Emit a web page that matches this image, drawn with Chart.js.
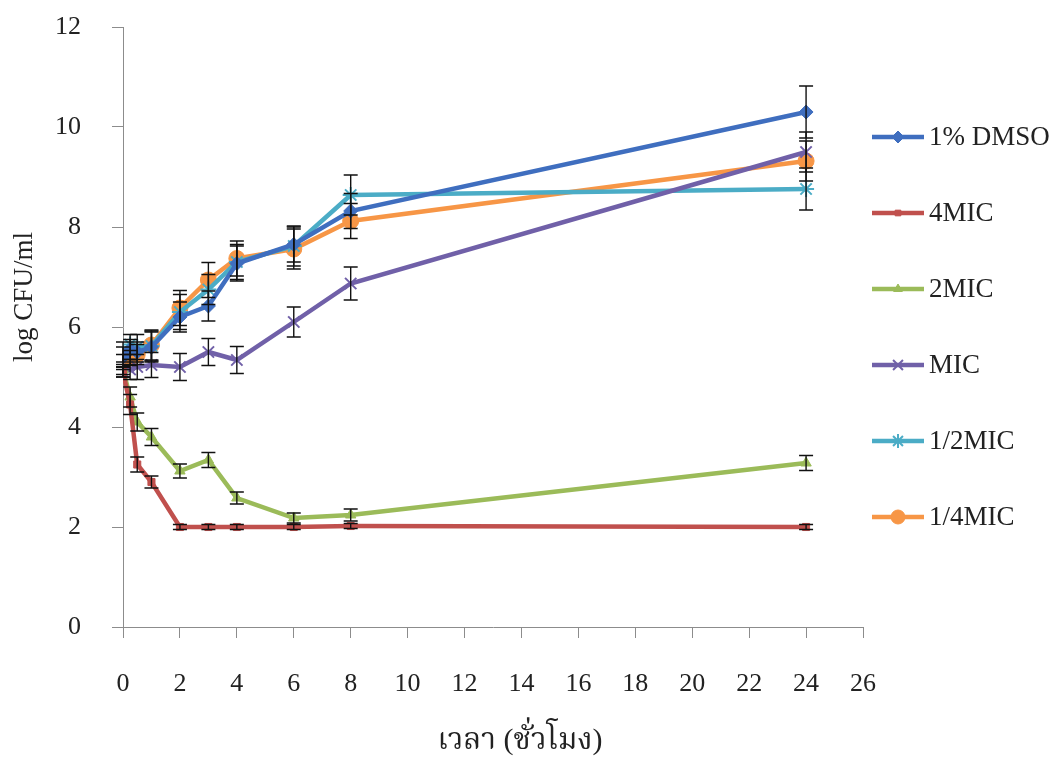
<!DOCTYPE html>
<html>
<head>
<meta charset="utf-8">
<script src="https://cdn.jsdelivr.net/npm/chart.js@4/dist/chart.umd.min.js"></script>
<style>
  html, body { margin: 0; padding: 0; background: #fff; }
  #wrap { width: 1060px; height: 760px; }
</style>
</head>
<body>
<div id="wrap"><canvas id="chart" width="1060" height="760"></canvas></div>
<script>
const hours = [0, 0.25, 0.5, 1, 2, 3, 4, 6, 8, 24];
const xTicks = [0, 2, 4, 6, 8, 10, 12, 14, 16, 18, 20, 22, 24, 26];
const yTicks = [0, 2, 4, 6, 8, 10, 12];

const seriesNames = ["1% DMSO", "4MIC", "2MIC", "MIC", "1/2MIC", "1/4MIC"];
const dmso = [5.4, 5.55, 5.5, 5.6, 6.2, 6.42, 7.27, 7.65, 8.32, 10.3];
const mic4 = [5.1, 4.45, 3.25, 2.9, 2.0, 2.0, 2.0, 2.0, 2.02, 2.0];
const mic2 = [5.15, 4.6, 4.1, 3.8, 3.12, 3.34, 2.58, 2.18, 2.24, 3.28];
const mic1 = [5.1, 5.15, 5.2, 5.24, 5.2, 5.5, 5.34, 6.1, 6.87, 9.5];
const micHalf = [5.5, 5.65, 5.6, 5.62, 6.3, 6.75, 7.3, 7.62, 8.64, 8.76];
const micQuarter = [5.3, 5.38, 5.45, 5.64, 6.38, 6.94, 7.37, 7.56, 8.12, 9.32];

const dmsoErr = [0.2, 0.2, 0.2, 0.3, 0.3, 0.3, 0.35, 0.35, 0.35, 0.52];
const mic4Err = [0.1, 0.2, 0.15, 0.12, 0.05, 0.05, 0.05, 0.05, 0.05, 0.05];
const mic2Err = [0.1, 0.2, 0.18, 0.17, 0.14, 0.15, 0.12, 0.1, 0.12, 0.15];
const mic1Err = [0.1, 0.2, 0.25, 0.25, 0.27, 0.27, 0.27, 0.3, 0.33, 0.4];
const micHalfErr = [0.2, 0.2, 0.25, 0.3, 0.35, 0.3, 0.35, 0.4, 0.4, 0.42];
const micQuarterErr = [0.15, 0.15, 0.2, 0.3, 0.35, 0.35, 0.35, 0.4, 0.35, 0.4];

const colors = ["#3F6EBF", "#C0504D", "#9BBB59", "#7060A8", "#4BACC6", "#F79646"];
const styles = [
  { pointStyle: "rectRot", radius: 7, borderWidth: 1 },
  { pointStyle: "rect", radius: 5, borderWidth: 1 },
  { pointStyle: "triangle", radius: 6, borderWidth: 1 },
  { pointStyle: "crossRot", radius: 8, borderWidth: 2 },
  { pointStyle: "star", radius: 8, borderWidth: 2 },
  { pointStyle: "circle", radius: 8, borderWidth: 1 },
];

const values = [dmso, mic4, mic2, mic1, micHalf, micQuarter];
const errors = [dmsoErr, mic4Err, mic2Err, mic1Err, micHalfErr, micQuarterErr];

const serif = "'Liberation Serif', 'Times New Roman', serif";
const thaiFont = "'Liberation Serif', 'Noto Serif Thai', 'Noto Sans Thai', 'DejaVu Sans', serif";

const makeDataset = (i) => ({
  label: seriesNames[i],
  data: hours.map((h, k) => ({ x: h, y: values[i][k] })),
  err: errors[i],
  borderColor: colors[i],
  backgroundColor: colors[i],
  borderWidth: 4.5,
  tension: 0,
  pointStyle: styles[i].pointStyle,
  pointRadius: styles[i].radius,
  pointBorderWidth: styles[i].borderWidth,
  pointBorderColor: colors[i],
  pointBackgroundColor: colors[i],
});

// black error bars drawn over the lines
const errorBars = {
  id: "errorBars",
  afterDatasetsDraw(chart) {
    const ctx = chart.ctx;
    const ys = chart.scales.y;
    ctx.save();
    ctx.strokeStyle = "#111";
    ctx.lineWidth = 1.4;
    chart.data.datasets.forEach((ds, i) => {
      const meta = chart.getDatasetMeta(i);
      meta.data.forEach((pt, k) => {
        const v = ds.data[k].y;
        const e = ds.err[k];
        const top = ys.getPixelForValue(v + e);
        const bot = ys.getPixelForValue(v - e);
        ctx.beginPath();
        ctx.moveTo(pt.x, top); ctx.lineTo(pt.x, bot);
        ctx.moveTo(pt.x - 7, top); ctx.lineTo(pt.x + 7, top);
        ctx.moveTo(pt.x - 7, bot); ctx.lineTo(pt.x + 7, bot);
        ctx.stroke();
      });
    });
    ctx.restore();
  },
};

// legend on the right and axis titles
const sideText = {
  id: "sideText",
  afterDraw(chart) {
    const ctx = chart.ctx;
    ctx.save();
    chart.data.datasets.forEach((ds, i) => {
      const y = 137 + 76 * i;
      ctx.strokeStyle = colors[i];
      ctx.fillStyle = colors[i];
      ctx.lineWidth = 4.5;
      ctx.beginPath();
      ctx.moveTo(872, y); ctx.lineTo(924, y);
      ctx.stroke();
      ctx.lineWidth = styles[i].borderWidth;
      Chart.helpers.drawPoint(ctx, { pointStyle: styles[i].pointStyle, radius: styles[i].radius - 1, borderWidth: styles[i].borderWidth, rotation: 0 }, 898, y);
      ctx.fillStyle = "#222";
      ctx.font = "27px " + serif;
      ctx.textAlign = "left";
      ctx.textBaseline = "middle";
      ctx.fillText(ds.label, 929, y + 1);
    });

    ctx.fillStyle = "#222";
    ctx.font = "27px " + serif;
    ctx.textAlign = "center";
    ctx.textBaseline = "middle";
    ctx.translate(25, 297);
    ctx.rotate(-Math.PI / 2);
    ctx.fillText("log CFU/ml", 0, 0);
    ctx.restore();

    ctx.save();
    ctx.fillStyle = "#222";
    ctx.font = "30px " + thaiFont;
    ctx.textAlign = "center";
    ctx.textBaseline = "middle";
    ctx.fillText("เวลา (ชั่วโมง)", 520, 741);
    ctx.restore();
  },
};

const ctx = document.getElementById("chart").getContext("2d");
new Chart(ctx, {
  type: "line",
  data: { datasets: values.map((v, i) => makeDataset(i)) },
  options: {
    responsive: false,
    animation: false,
    layout: { padding: { top: 27, right: 197, left: 0, bottom: 0 } },
    plugins: { legend: { display: false }, tooltip: { enabled: false } },
    scales: {
      x: {
        type: "linear",
        min: 0,
        max: 26,
        afterBuildTicks: (s) => { s.ticks = xTicks.map((v) => ({ value: v })); },
        afterFit: (s) => { s.height = 133; s.paddingLeft = 0; s.paddingRight = 0; },
        grid: { drawOnChartArea: false, drawTicks: true, tickLength: 11, color: "#8c8c8c" },
        border: { color: "#8c8c8c", width: 1 },
        ticks: { padding: 31, color: "#222", font: { family: serif, size: 26 }, maxRotation: 0 },
      },
      y: {
        min: 0,
        max: 12,
        afterBuildTicks: (s) => { s.ticks = yTicks.map((v) => ({ value: v })); },
        afterFit: (s) => { s.width = 123; s.paddingTop = 0; s.paddingBottom = 0; },
        grid: { drawOnChartArea: false, drawTicks: true, tickLength: 11, color: "#8c8c8c" },
        border: { color: "#8c8c8c", width: 1 },
        ticks: { padding: 31, color: "#222", font: { family: serif, size: 26 } },
      },
    },
  },
  plugins: [errorBars, sideText],
});
</script>
</body>
</html>
